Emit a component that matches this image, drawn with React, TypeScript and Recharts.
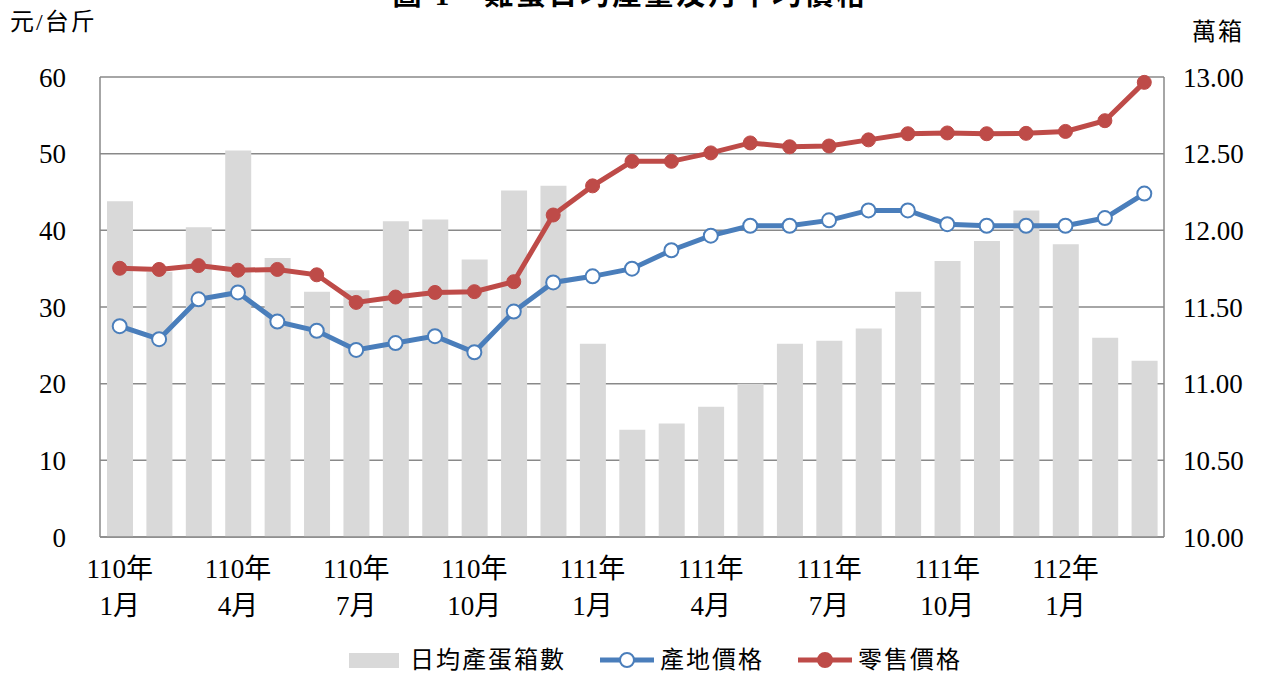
import React from 'react';
import { ComposedChart, Bar, Line, XAxis, YAxis, CartesianGrid } from 'recharts';

const months = [
  '110年1月', '110年2月', '110年3月', '110年4月', '110年5月', '110年6月',
  '110年7月', '110年8月', '110年9月', '110年10月', '110年11月', '110年12月',
  '111年1月', '111年2月', '111年3月', '111年4月', '111年5月', '111年6月',
  '111年7月', '111年8月', '111年9月', '111年10月', '111年11月', '111年12月',
  '112年1月', '112年2月', '112年3月',
];

// 日均產蛋箱數 (萬箱)
const eggBoxes = [
  12.19, 11.73, 12.02, 12.52, 11.82, 11.6, 11.61, 12.06, 12.07, 11.81, 12.26, 12.29,
  11.26, 10.7, 10.74, 10.85, 11.0, 11.26, 11.28, 11.36, 11.6, 11.8, 11.93, 12.13,
  11.91, 11.3, 11.15,
];

// 產地價格 (元/台斤)
const farmPrice = [
  27.5, 25.8, 31.0, 31.9, 28.1, 26.9, 24.4, 25.3, 26.2, 24.1, 29.4, 33.2,
  34.0, 35.0, 37.4, 39.3, 40.6, 40.6, 41.3, 42.6, 42.6, 40.8, 40.6, 40.6,
  40.6, 41.6, 44.8,
];

// 零售價格 (元/台斤)
const retailPrice = [
  35.05, 34.9, 35.4, 34.8, 34.9, 34.2, 30.6, 31.3, 31.9, 32.0, 33.3, 42.0,
  45.8, 49.0, 49.0, 50.1, 51.4, 50.9, 51.0, 51.8, 52.6, 52.7, 52.6, 52.65,
  52.9, 54.3, 59.3,
];

const leftTicks = [0, 10, 20, 30, 40, 50, 60];
const rightTicks = [10, 10.5, 11, 11.5, 12, 12.5, 13];

const data = months.map((m, i) => ({
  month: m,
  boxes: eggBoxes[i],
  farm: farmPrice[i],
  retail: retailPrice[i],
}));

const FONT = "'Liberation Serif', 'Noto Sans CJK TC', serif";
const GRAY = '#898989';
const BAR = '#d9d9d9';
const BLUE = '#4a7ebb';
const RED = '#be4b48';

const XTick = (props: any) => {
  const { x, y, payload } = props;
  const parts = String(payload.value).split('年');
  return (
    <g>
      <text x={x} y={y + 41} textAnchor="middle" fontFamily={FONT} fontSize={27} fill="#000">
        {parts[0] + '年'}
      </text>
      <text x={x} y={y + 78} textAnchor="middle" fontFamily={FONT} fontSize={27} fill="#000">
        {parts[1]}
      </text>
    </g>
  );
};

const LegendLine = ({ color, filled }: { color: string; filled: boolean }) => (
  <svg width={54} height={20} style={{ display: 'block' }}>
    <line x1={0} y1={10} x2={54} y2={10} stroke={color} strokeWidth={5} />
    <circle cx={27} cy={10} r={7} fill={filled ? color : '#fff'} stroke={color} strokeWidth={2} />
  </svg>
);

export default function App() {
  const textStyle: React.CSSProperties = {
    fontFamily: FONT,
    fontSize: 24,
    letterSpacing: 2,
    color: '#000',
    lineHeight: '24px',
    whiteSpace: 'nowrap',
  };
  return (
    <div
      style={{
        position: 'absolute',
        left: 0,
        top: 0,
        width: 1261,
        height: 673,
        background: '#fff',
        overflow: 'hidden',
      }}
    >
      <div
        style={{
          position: 'absolute',
          left: 0,
          width: 1261,
          top: -19,
          textAlign: 'center',
          fontFamily: FONT,
          fontSize: 29,
          lineHeight: '29px',
          fontWeight: 700,
          letterSpacing: 3,
          whiteSpace: 'pre',
        }}
      >
        {'圖 1　雞蛋日均產量及月平均價格'}
      </div>
      <div style={{ ...textStyle, position: 'absolute', left: 10, top: 10 }}>元/台斤</div>
      <div style={{ ...textStyle, position: 'absolute', left: 1192, top: 20 }}>萬箱</div>

      <ComposedChart
        width={1261}
        height={673}
        data={data}
        margin={{ top: 77, right: 0, bottom: 0, left: 0 }}
        barCategoryGap={0}
      >
        <CartesianGrid yAxisId="left" vertical={false} stroke={GRAY} strokeWidth={1.5} />
        <XAxis
          dataKey="month"
          height={136}
          interval={2}
          tickLine={false}
          tickSize={0}
          tickMargin={0}
          axisLine={{ stroke: GRAY, strokeWidth: 1.5 }}
          tick={<XTick />}
        />
        <YAxis
          yAxisId="left"
          orientation="left"
          width={100}
          domain={[0, 60]}
          ticks={leftTicks}
          tickLine={false}
          tickSize={0}
          tickMargin={34}
          axisLine={{ stroke: GRAY, strokeWidth: 1.5 }}
          tick={{ fontFamily: FONT, fontSize: 27, fill: '#000' }}
        />
        <YAxis
          yAxisId="right"
          orientation="right"
          width={97}
          domain={[10, 13]}
          ticks={rightTicks}
          tickFormatter={(v: number) => v.toFixed(2)}
          tickLine={false}
          tickSize={0}
          tickMargin={19}
          axisLine={{ stroke: GRAY, strokeWidth: 1.5 }}
          tick={{ fontFamily: FONT, fontSize: 27, fill: '#000', textAnchor: 'start' }}
        />
        <Bar yAxisId="right" dataKey="boxes" fill={BAR} barSize={26} isAnimationActive={false} />
        <Line
          yAxisId="left"
          type="linear"
          dataKey="farm"
          stroke={BLUE}
          strokeWidth={5}
          dot={{ r: 7, fill: '#fff', stroke: BLUE, strokeWidth: 2 }}
          isAnimationActive={false}
        />
        <Line
          yAxisId="left"
          type="linear"
          dataKey="retail"
          stroke={RED}
          strokeWidth={5}
          dot={{ r: 7, fill: RED, stroke: RED, strokeWidth: 1 }}
          isAnimationActive={false}
        />
      </ComposedChart>

      <div
        style={{
          position: 'absolute',
          left: 349,
          top: 648,
          display: 'flex',
          alignItems: 'center',
          height: 24,
        }}
      >
        <div style={{ width: 50, height: 15, background: BAR }} />
        <div style={{ ...textStyle, marginLeft: 11 }}>日均產蛋箱數</div>
        <div style={{ marginLeft: 34 }}>
          <LegendLine color={BLUE} filled={false} />
        </div>
        <div style={{ ...textStyle, marginLeft: 6 }}>產地價格</div>
        <div style={{ marginLeft: 34 }}>
          <LegendLine color={RED} filled={true} />
        </div>
        <div style={{ ...textStyle, marginLeft: 6 }}>零售價格</div>
      </div>
    </div>
  );
}
